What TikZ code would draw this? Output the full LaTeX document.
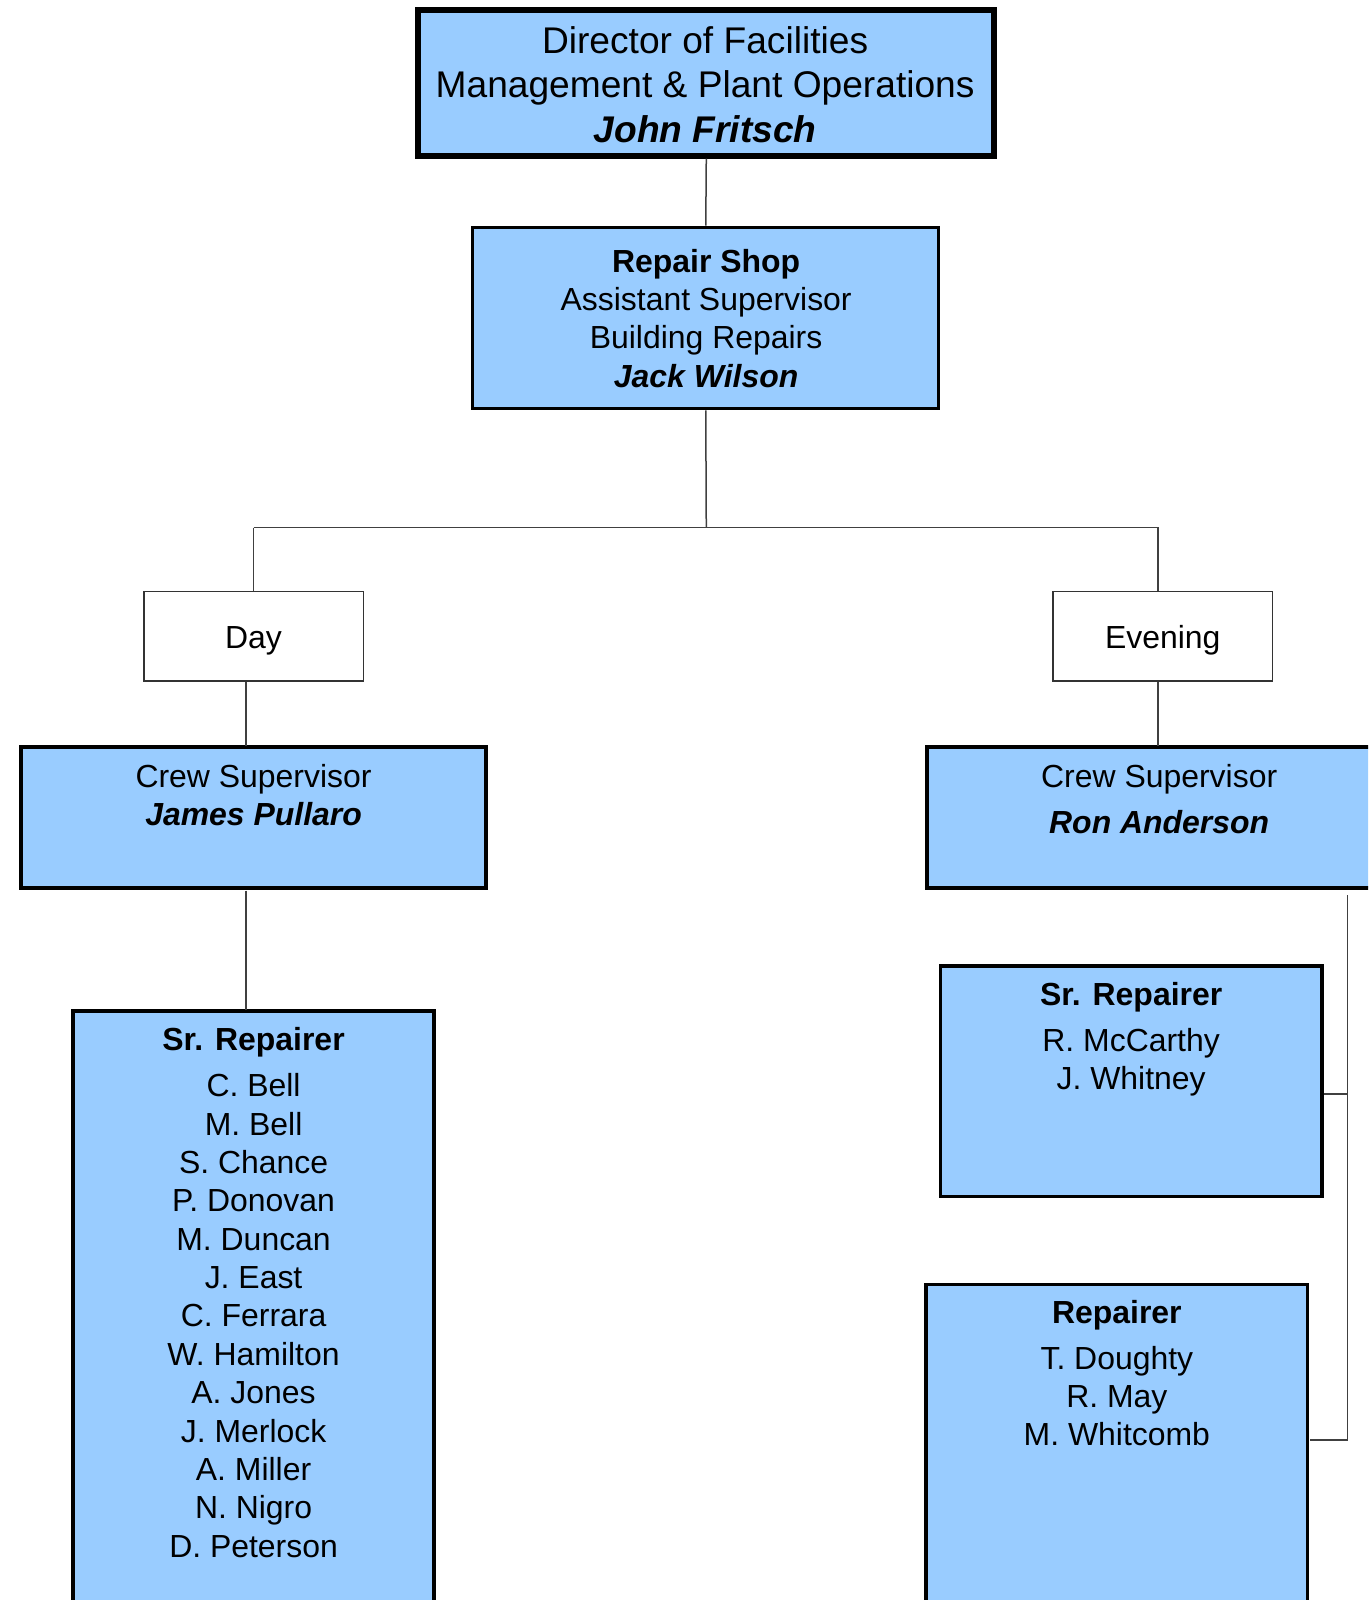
\documentclass[tikz,border=0pt]{standalone}
\usepackage{fontspec}
\setmainfont{Liberation Sans}
\usetikzlibrary{positioning}
\definecolor{boxblue}{HTML}{99CCFF}
\definecolor{wire}{HTML}{404040}
\tikzset{
  unitbox/.style={
    draw,
    fill=boxblue,
    line width=3.5pt,
    inner sep=0pt
  },
  shiftbox/.style={
    draw=black!80,
    line width=1.5pt,
    minimum width=215pt,
    minimum height=88pt,
    text height=25pt,
    text depth=0pt,
    font=\fontsize{31.3}{37.6}\selectfont
  },
  boxtext/.style={
    anchor=base,
    align=center,
    inner sep=0pt,
    font=\fontsize{31.3}{37.6}\selectfont
  },
  link/.style={draw=wire, line width=1.5pt}
}
\newcommand{\who}[1]{\textbf{\textit{#1}}}

\begin{document}
\begin{tikzpicture}[x=1pt, y=-1pt, scale=1.0204, transform shape]
  \useasboundingbox (0,0) rectangle (1340.7,1568);
  \clip (0,0) rectangle (1340.7,1568);

  % top of the chart
  \node[unitbox, line width=6pt, minimum width=565pt, minimum height=143pt] (director) at (692,81) {};
  \node[boxtext, font=\fontsize{36.4}{44}\selectfont] (directortxt) at (691,140)
    {Director of Facilities\\Management \& Plant Operations\\\who{John Fritsch}};

  \node[unitbox, line width=3pt, minimum width=457pt, minimum height=178pt] (shop) at (691.5,311.5) {};
  \node[boxtext] (shoptxt) at (692,379.5)
    {\textbf{Repair Shop}\\Assistant Supervisor\\Building Repairs\\\who{Jack Wilson}};

  % shifts
  \node[shiftbox] (day) at (248.5,623.5) {Day};
  \node[shiftbox] (evening) at (1139.5,623.5) {Evening};

  \node[unitbox, line width=4pt, minimum width=456pt, minimum height=138pt] (crewday) at (248.5,801.5) {};
  \node[boxtext] (crewdaytxt) at (248.5,809) {Crew Supervisor\\\who{James Pullaro}};

  \node[unitbox, line width=4pt, minimum width=462pt, minimum height=138pt] (creweve) at (1139,801.5) {};
  \node[boxtext] (crewevetxt) at (1136,817) {Crew Supervisor\\[7.5pt]\who{Ron Anderson}};

  % day crew
  \node[unitbox, minimum width=354pt, minimum height=629pt] (srday) at (248.5,1305.5) {};
  \node[boxtext] (srdaytxt) at (248.5,1526)
    {\textbf{Sr. Repairer}\\[7.4pt]C. Bell\\M. Bell\\S. Chance\\P. Donovan\\M. Duncan\\J. East\\C. Ferrara\\W. Hamilton\\A. Jones\\J. Merlock\\A. Miller\\N. Nigro\\D. Peterson};

  % evening crew
  \node[unitbox, minimum width=374pt, minimum height=226pt] (sreve) at (1108.5,1059.5) {};
  \node[boxtext] (srevetxt) at (1108.5,1068)
    {\textbf{Sr. Repairer}\\[7.4pt]R. McCarthy\\J. Whitney};

  \node[unitbox, minimum width=374pt, minimum height=361pt] (repeve) at (1094.5,1439.5) {};
  \node[boxtext] (repevetxt) at (1094.5,1417)
    {\textbf{Repairer}\\[7.4pt]T. Doughty\\R. May\\M. Whitcomb};

  % connectors
  \coordinate (split) at (692,517);
  \coordinate (spine) at (1320,877);
  \path[link] (director.south) -- (shop.north);
  \path[link] (shop.south) -- (split);
  \path[link] (split -| day.north) -- (split -| 1135,0) -- (evening.north -| 1135,0);
  \path[link] (split -| day.north) -- (day.north);
  \path[link] ([xshift=-7.5pt]day.south) -- ([xshift=-7.5pt]day.south |- crewday.north);
  \path[link] ([xshift=-7.5pt]crewday.south) -- ([xshift=-7.5pt]crewday.south |- srday.north);
  \path[link] (evening.south -| 1135,0) -- (creweve.north -| 1135,0);
  \path[link] (spine) |- (repeve.east |- 0,1411);
  \path[link] (spine |- 0,1072) -- (sreve.east |- 0,1072);
\end{tikzpicture}
\end{document}
